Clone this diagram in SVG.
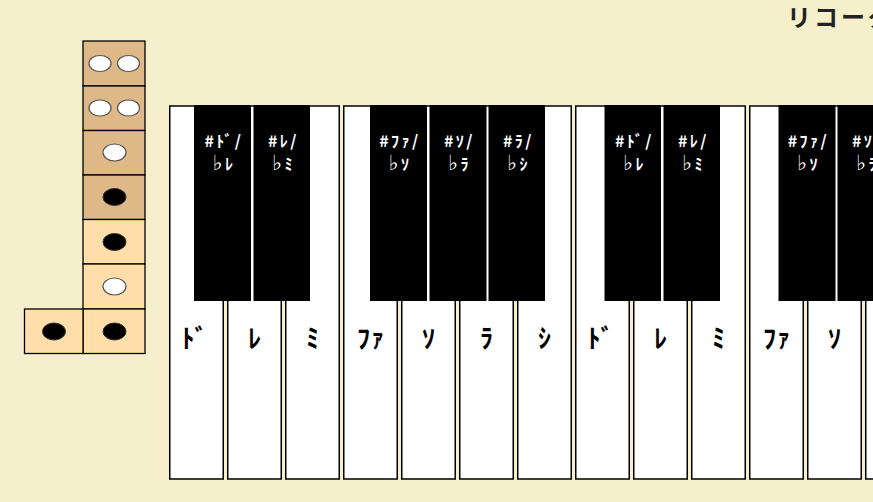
<svg xmlns="http://www.w3.org/2000/svg" width="873" height="502" viewBox="0 0 873 502">
<style>
.bg{fill:#F6EFCB}
.cell{stroke:#000;stroke-width:1.3}
.dark{fill:#DEB887}
.light{fill:#FFDEAA}
.open{fill:#fff;stroke:#555;stroke-width:1.2}
.closed{fill:#000;stroke:#333;stroke-width:1}
.wk{fill:#fff;stroke:#000;stroke-width:1.5}
.bk{fill:#000}
.wl{font-family:"Noto Sans CJK JP","Noto Sans",sans-serif;font-weight:bold;font-size:26px;fill:#000;text-anchor:middle;letter-spacing:1px}
.bl{font-family:"Noto Sans CJK JP","Noto Sans",sans-serif;font-weight:bold;font-size:16px;fill:#fff;text-anchor:middle;letter-spacing:2.5px}
.fl{font-family:"DejaVu Sans",sans-serif;font-weight:bold;font-size:21px;fill:#fff}
.title{font-family:"Noto Sans CJK JP","Noto Sans",sans-serif;font-weight:bold;font-size:24px;fill:#222;letter-spacing:3px}
</style>
<rect class="bg" x="0" y="0" width="873" height="502"/>
<text class="title" x="787" y="26">リコーダー</text>
<g id="recorder">
  <rect class="cell dark" x="83" y="41" width="62" height="45"/>
  <rect class="cell dark" x="83" y="86" width="62" height="44.5"/>
  <rect class="cell dark" x="83" y="130.5" width="62" height="44.5"/>
  <rect class="cell dark" x="83" y="175" width="62" height="44.5"/>
  <rect class="cell light" x="83" y="219.5" width="62" height="44.5"/>
  <rect class="cell light" x="83" y="264" width="62" height="45"/>
  <rect class="cell light" x="83" y="309" width="62" height="44.5"/>
  <rect class="cell light" x="24.5" y="309" width="58.5" height="44.5"/>
  <ellipse class="open" cx="100" cy="63.5" rx="11" ry="8"/>
  <ellipse class="open" cx="128.5" cy="63.5" rx="11" ry="8"/>
  <ellipse class="open" cx="100" cy="108" rx="11" ry="8"/>
  <ellipse class="open" cx="128.5" cy="108" rx="11" ry="8"/>
  <ellipse class="open" cx="114.5" cy="152.5" rx="11.5" ry="8.5"/>
  <ellipse class="closed" cx="114.5" cy="197" rx="11.5" ry="8.5"/>
  <ellipse class="closed" cx="114.5" cy="242" rx="11.5" ry="8.5"/>
  <ellipse class="open" cx="114.5" cy="286.5" rx="11.5" ry="8.5"/>
  <ellipse class="closed" cx="114.5" cy="331.5" rx="11.5" ry="8.5"/>
  <ellipse class="closed" cx="54" cy="331.5" rx="11.5" ry="8.5"/>
</g>
<g id="white-keys">
  <g id="w-do1"><rect class="wk" x="169.75" y="106" width="53.5" height="373"/><text class="wl" x="195" y="348">ﾄﾞ</text></g>
  <g id="w-re1"><rect class="wk" x="227.75" y="106" width="53.5" height="373"/><text class="wl" x="255" y="348">ﾚ</text></g>
  <g id="w-mi1"><rect class="wk" x="285.75" y="106" width="53.5" height="373"/><text class="wl" x="313" y="348">ﾐ</text></g>
  <g id="w-fa1"><rect class="wk" x="343.75" y="106" width="53.5" height="373"/><text class="wl" x="371" y="348">ﾌｧ</text></g>
  <g id="w-so1"><rect class="wk" x="401.75" y="106" width="53.5" height="373"/><text class="wl" x="429" y="348">ｿ</text></g>
  <g id="w-ra1"><rect class="wk" x="459.75" y="106" width="53.5" height="373"/><text class="wl" x="487" y="348">ﾗ</text></g>
  <g id="w-si1"><rect class="wk" x="517.75" y="106" width="53.5" height="373"/><text class="wl" x="545" y="348">ｼ</text></g>
  <g id="w-do2"><rect class="wk" x="575.75" y="106" width="53.5" height="373"/><text class="wl" x="601" y="348">ﾄﾞ</text></g>
  <g id="w-re2"><rect class="wk" x="633.75" y="106" width="53.5" height="373"/><text class="wl" x="661" y="348">ﾚ</text></g>
  <g id="w-mi2"><rect class="wk" x="691.75" y="106" width="53.5" height="373"/><text class="wl" x="719" y="348">ﾐ</text></g>
  <g id="w-fa2"><rect class="wk" x="749.75" y="106" width="53.5" height="373"/><text class="wl" x="777" y="348">ﾌｧ</text></g>
  <g id="w-so2"><rect class="wk" x="807.75" y="106" width="53.5" height="373"/><text class="wl" x="835" y="348">ｿ</text></g>
  <g id="w-ra2"><rect class="wk" x="865.75" y="106" width="53.5" height="373"/></g>
</g>
<g id="black-keys">
  <g id="b-do1"><rect class="bk" x="194" y="105" width="57" height="196"/><text class="bl" x="224" y="147">#ﾄﾞ/</text><text class="bl" x="224" y="170"><tspan class="fl">♭</tspan>ﾚ</text></g>
  <g id="b-re1"><rect class="bk" x="253.5" y="105" width="56.5" height="196"/><text class="bl" x="283.5" y="147">#ﾚ/</text><text class="bl" x="283.5" y="170"><tspan class="fl">♭</tspan>ﾐ</text></g>
  <g id="b-fa1"><rect class="bk" x="370" y="105" width="57" height="196"/><text class="bl" x="400" y="147">#ﾌｧ/</text><text class="bl" x="400" y="170"><tspan class="fl">♭</tspan>ｿ</text></g>
  <g id="b-so1"><rect class="bk" x="429.5" y="105" width="57" height="196"/><text class="bl" x="459.5" y="147">#ｿ/</text><text class="bl" x="459.5" y="170"><tspan class="fl">♭</tspan>ﾗ</text></g>
  <g id="b-ra1"><rect class="bk" x="488.5" y="105" width="56.5" height="196"/><text class="bl" x="518.5" y="147">#ﾗ/</text><text class="bl" x="518.5" y="170"><tspan class="fl">♭</tspan>ｼ</text></g>
  <g id="b-do2"><rect class="bk" x="604.5" y="105" width="56.5" height="196"/><text class="bl" x="634.5" y="147">#ﾄﾞ/</text><text class="bl" x="634.5" y="170"><tspan class="fl">♭</tspan>ﾚ</text></g>
  <g id="b-re2"><rect class="bk" x="663.5" y="105" width="56.5" height="196"/><text class="bl" x="693.5" y="147">#ﾚ/</text><text class="bl" x="693.5" y="170"><tspan class="fl">♭</tspan>ﾐ</text></g>
  <g id="b-fa2"><rect class="bk" x="778.5" y="105" width="57" height="196"/><text class="bl" x="808.5" y="147">#ﾌｧ/</text><text class="bl" x="808.5" y="170"><tspan class="fl">♭</tspan>ｿ</text></g>
  <g id="b-so2"><rect class="bk" x="837.5" y="105" width="57" height="196"/><text class="bl" x="867.5" y="147">#ｿ/</text><text class="bl" x="867.5" y="170"><tspan class="fl">♭</tspan>ﾗ</text></g>
</g>
<g id="connectors"></g>
</svg>
